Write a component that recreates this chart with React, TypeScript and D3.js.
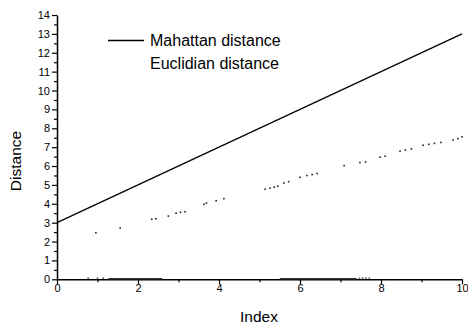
import React, { useEffect, useRef } from 'react'
import * as d3 from 'd3'

// index and values
const manhattanX = [0, 10]
const manhattanY = [3, 13]

const euclidX = [0.96, 1.56, 2.34, 2.44, 2.75, 2.94, 3.05, 3.16, 3.63, 3.69, 3.93, 4.12,
  5.14, 5.26, 5.36, 5.45, 5.6, 5.72, 6.0, 6.17, 6.3, 6.42, 7.09, 7.48, 7.62, 7.98, 8.1,
  8.47, 8.6, 8.75, 9.04, 9.18, 9.32, 9.48, 9.78, 9.9, 10]
const euclidY = [2.47, 2.72, 3.18, 3.21, 3.35, 3.5, 3.55, 3.58, 3.97, 4.04, 4.16, 4.27,
  4.77, 4.83, 4.88, 4.93, 5.1, 5.17, 5.4, 5.5, 5.55, 5.6, 6.02, 6.18, 6.22, 6.47, 6.52,
  6.78, 6.85, 6.9, 7.1, 7.15, 7.2, 7.25, 7.38, 7.45, 7.55]

// scan smudges sitting on the zero line
const zeroBands = [[1.27, 2.6], [5.5, 7.4]]
const zeroDots = [0.77, 1.0, 1.14, 7.47, 7.55, 7.63, 7.71]

const xTicks = [0, 2, 4, 6, 8, 10]
const yTicks = [0, 1, 2, 3, 4, 5, 6, 7, 8, 9, 10, 11, 12, 13, 14]

const legendLabels = ['Mahattan distance', 'Euclidian distance']

const W = 468
const H = 326
const FONT = '"Liberation Sans", Arial, sans-serif'

const App = () => {
  const svgRef = useRef<SVGSVGElement>(null)

  useEffect(() => {
    const svg = d3.select(svgRef.current)
    svg.selectAll('*').remove()

    const x = d3.scaleLinear().domain([0, 10]).range([57, 462])
    const y = d3.scaleLinear().domain([0, 14]).range([279.3, 15])

    // axes
    const xAxis = d3.axisBottom(x).tickValues(xTicks).tickSize(5).tickSizeOuter(0)
      .tickFormat(d3.format('d'))
    const gx = svg.append('g').attr('transform', `translate(0,${y(0)})`).call(xAxis)
    svg.append('g').attr('transform', `translate(0,${y(0)})`)
      .call(d3.axisBottom(x).tickValues(d3.range(1, 10, 2)).tickSize(3).tickFormat(() => ''))
      .call(g => g.select('.domain').remove())

    const yAxis = d3.axisLeft(y).tickValues(yTicks).tickSize(5).tickSizeOuter(0)
      .tickFormat(d3.format('d'))
    const gy = svg.append('g').attr('transform', `translate(${x(0)},0)`).call(yAxis)
    svg.append('g').attr('transform', `translate(${x(0)},0)`)
      .call(d3.axisLeft(y).tickValues(d3.range(0.5, 14, 1)).tickSize(3).tickFormat(() => ''))
      .call(g => g.select('.domain').remove())

    svg.selectAll('.domain').attr('stroke', '#000').attr('stroke-width', 1.5)
    svg.selectAll('.tick line').attr('stroke', '#000').attr('stroke-width', 1.2)
    gx.selectAll('.tick text').attr('font-family', FONT).attr('font-size', 11)
      .attr('fill', '#000').attr('dy', '0.6em').attr('y', 6)
    gy.selectAll('.tick text').attr('font-family', FONT).attr('font-size', 11)
      .attr('fill', '#000').attr('x', -7)

    // smudges on zero line
    svg.selectAll('.band').data(zeroBands).join('line')
      .attr('x1', d => x(d[0])).attr('x2', d => x(d[1]))
      .attr('y1', y(0) - 0.6).attr('y2', y(0) - 0.6)
      .attr('stroke', '#333').attr('stroke-width', 1.6)
    svg.selectAll('.zdot').data(zeroDots).join('rect')
      .attr('x', d => x(d) - 0.8).attr('y', y(0) - 1.8).attr('width', 1.6).attr('height', 1.2)
      .attr('fill', '#333')

    // Manhattan line
    const line = d3.line<number>().x(d => x(d)).y((d, i) => y(manhattanY[i]))
    svg.append('path').datum(manhattanX).attr('d', line)
      .attr('fill', 'none').attr('stroke', '#000').attr('stroke-width', 1.3)

    // Euclidean dots
    svg.selectAll('.edot').data(euclidX).join('rect')
      .attr('x', d => x(d) - 0.8).attr('y', (d, i) => y(euclidY[i]) - 0.8)
      .attr('width', 1.6).attr('height', 1.6).attr('fill', '#222')

    // legend
    svg.append('line').attr('x1', 108).attr('x2', 144).attr('y1', 40.5).attr('y2', 40.5)
      .attr('stroke', '#000').attr('stroke-width', 1.3)
    svg.selectAll('.leg').data(legendLabels).join('text')
      .attr('x', 150).attr('y', (d, i) => 45.5 + i * 23.5)
      .attr('font-family', FONT).attr('font-size', 16).attr('fill', '#000')
      .text(d => d)

    // axis titles
    svg.append('text').attr('x', 259).attr('y', 322).attr('text-anchor', 'middle')
      .attr('font-family', FONT).attr('font-size', 15.5).attr('fill', '#000').text('Index')
    svg.append('text').attr('transform', 'translate(21,161) rotate(-90)')
      .attr('text-anchor', 'middle')
      .attr('font-family', FONT).attr('font-size', 15.5).attr('fill', '#000').text('Distance')
  }, [])

  return (
    <svg ref={svgRef} width={W} height={H}
      style={{ position: 'absolute', left: 0, top: 0, background: '#fff' }} />
  )
}

export default App
